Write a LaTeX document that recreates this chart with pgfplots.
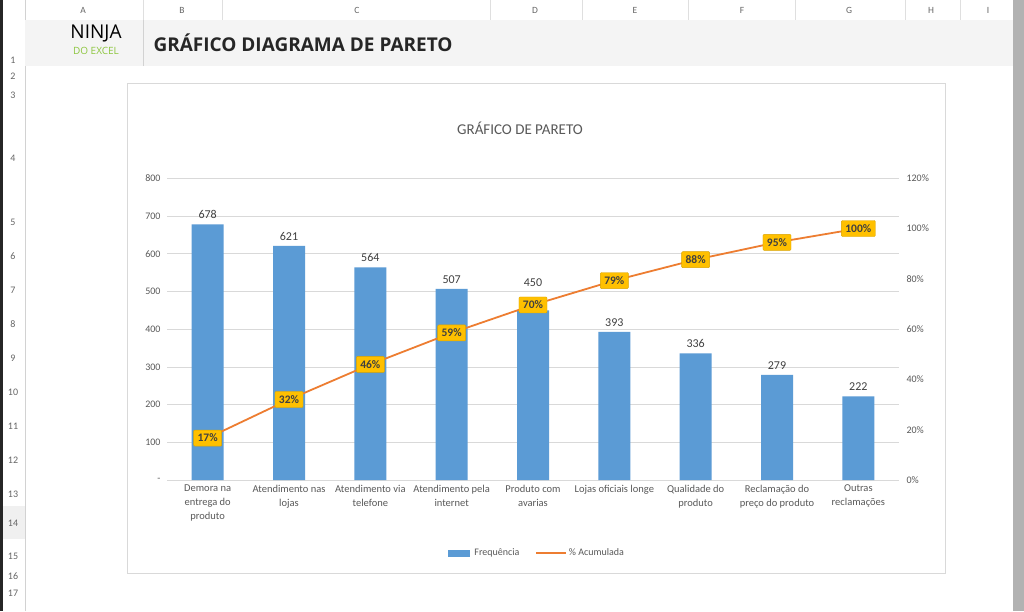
\documentclass[border=0pt]{standalone}
\usepackage{fontspec}
\setmainfont{Carlito}
\newfontfamily\headfont{Open Sans}
\usepackage{pgfplots}
\usepackage{pgfplotstable}
\pgfplotsset{compat=1.18}
\definecolor{barblue}{HTML}{5B9BD5}
\definecolor{lineorange}{HTML}{ED7D31}
\definecolor{labelyellow}{HTML}{FFC000}
\definecolor{txtgray}{HTML}{595959}
\definecolor{darktxt}{HTML}{404040}
\definecolor{gridgray}{HTML}{D9D9D9}
\definecolor{ninjagreen}{HTML}{8DC63F}
\pgfplotstableread{
x y off
0 678 2
1 621 2
2 564 2
3 507 2
4 450 20
5 393 2
6 336 2
7 279 2
8 222 2
}\freqdata
\begin{document}
\begin{tikzpicture}[x=1pt,y=1pt]
% sheet background
\fill[white] (0,0) rectangle (1024,611);
\fill[black!85] (0,0) rectangle (3,611);
\fill[gray!60] (1013,0) rectangle (1024,611);
\draw[gray!35] (25,591) -- (1013,591);
\draw[gray!35] (25,0) -- (25,611);
\foreach \x/\l in {83/A,182/B,357/C,535/D,635/E,742/F,849/G,931/H,988/I}
  \node[gray!80!black,font=\fontsize{9.5}{10}\selectfont] at (\x,601) {\l};
\foreach \x in {143,222,490,582,688,795,905,960}
  \draw[gray!25] (\x,591) -- (\x,611);
\fill[gray!12] (3,72) rectangle (25,105);
\foreach \y/\l in {60/1,76/2,95/3,158/4,222/5,256/6,290/7,324/8,358/9,392/10,426/11,460/12,494/13,523/14,556/15,576/16,593/17}
  \node[gray!80!black,font=\fontsize{10}{10}\selectfont] at (13,611-\y) {\l};
% title bar
\fill[gray!9] (25,545) rectangle (1013,591);
\draw[gray!35] (143,545) -- (143,591);
\node[anchor=west,font=\headfont\bfseries\fontsize{19}{22}\selectfont,black!85] at (150,568) {GRÁFICO DIAGRAMA DE PARETO};
\node[font=\headfont\fontsize{19}{20}\selectfont,black] at (96,578) {NINJA};
\node[font=\headfont\fontsize{10}{11}\selectfont,ninjagreen] at (96,560) {DO EXCEL};
% chart area
\draw[gridgray,fill=white] (127,38) rectangle (945,528);
\node[txtgray,font=\fontsize{15}{18}\selectfont] at (520,483) {GRÁFICO DE PARETO};
\begin{axis}[
  at={(167pt,131pt)}, anchor=south west,
  scale only axis, width=732pt, height=302pt,
  xmin=-0.5, xmax=8.5, ymin=0, ymax=800,
  ytick={0,100,...,800},
  yticklabels={-,100,200,300,400,500,600,700,800},
  ymajorgrids, grid style={gridgray, line width=0.8pt},
  axis y line*=left, axis x line*=bottom,
  y axis line style={draw=none},
  x axis line style={draw=gridgray, line width=0.8pt},
  major tick length=0pt,
  xtick={0,...,8},
  xticklabels={{Demora na\\entrega do\\produto},{Atendimento nas\\lojas},{Atendimento via\\telefone},{Atendimento pela\\internet},{Produto com\\avarias},{Lojas oficiais longe},{Qualidade do\\produto},{Reclamação do\\preço do produto},{Outras\\reclamações}},
  xticklabel style={align=center, text=txtgray, font=\fontsize{10.5}{14}\selectfont, yshift=-1pt},
  yticklabel style={text=txtgray, font=\fontsize{10}{10}\selectfont, xshift=-3pt},
  /pgf/number format/assume math mode=true,
  ybar, bar width=32pt,
]
\addplot[fill=barblue, draw=none,
  visualization depends on={\thisrow{off} \as \laboff},
  nodes near coords,
  every node near coord/.append style={text=darktxt, font=\fontsize{12}{12}\selectfont, yshift=\laboff}]
  table[x=x, y=y] {\freqdata};
\end{axis}
\begin{axis}[
  at={(167pt,131pt)}, anchor=south west,
  scale only axis, width=732pt, height=302pt,
  xmin=-0.5, xmax=8.5, ymin=0, ymax=120,
  ytick={0,20,...,120},
  yticklabel={\pgfmathprintnumber{\tick}\%},
  axis y line*=right, axis x line=none,
  y axis line style={draw=none},
  major tick length=0pt,
  yticklabel style={text=txtgray, font=\fontsize{10}{10}\selectfont, xshift=4pt},
  /pgf/number format/assume math mode=true,
  legend columns=2,
  legend style={at={(0.5055,-0.2417)}, anchor=center, draw=none, fill=none,
    font=\fontsize{10}{10}\selectfont, text=txtgray,
    /tikz/every even column/.append style={column sep=14pt}},
]
\addlegendimage{legend image code/.code={\fill[barblue] (0pt,-3pt) rectangle (21pt,3pt); \path (24pt,0pt);}}
\addlegendentry{Frequência}
\addplot[lineorange, line width=1.8pt, mark=none,
  point meta=explicit symbolic,
  nodes near coords,
  every node near coord/.style={anchor=center, fill=labelyellow, draw=labelyellow!85!black, line width=0.4pt,
    text=darktxt, font=\bfseries\fontsize{11.5}{11.5}\selectfont, inner xsep=4pt, inner ysep=4pt, rounded corners=1pt},
  legend image code/.code={\draw[lineorange, line width=1.5pt] (0pt,0pt) -- (30pt,0pt);}]
  coordinates {(0,16.74) [17\%] (1,32.07) [32\%] (2,46.0) [46\%] (3,58.52) [59\%] (4,69.63) [70\%] (5,79.33) [79\%] (6,87.63) [88\%] (7,94.52) [95\%] (8,100) [100\%]};
\addlegendentry{\% Acumulada}
\end{axis}
\end{tikzpicture}
\end{document}
